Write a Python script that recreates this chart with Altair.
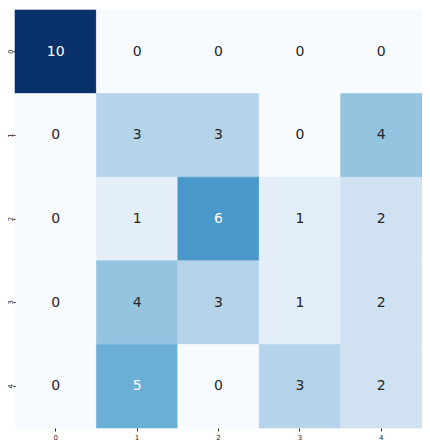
import altair as alt
import pandas as pd

labels = [0, 1, 2, 3, 4]
row0 = [10, 0, 0, 0, 0]
row1 = [0, 3, 3, 0, 4]
row2 = [0, 1, 6, 1, 2]
row3 = [0, 4, 3, 1, 2]
row4 = [0, 5, 0, 3, 2]
matrix = [row0, row1, row2, row3, row4]

blues_domain = [0, 1.25, 2.5, 3.75, 5, 6.25, 7.5, 8.75, 10]
blues_range = ["#f7fbff", "#deebf7", "#c6dbef", "#9ecae1", "#6baed6",
               "#4292c6", "#2171b5", "#08519c", "#08306b"]

rows = []
for i, r in enumerate(matrix):
    for j, v in enumerate(r):
        rows.append({"true": labels[i], "pred": labels[j], "value": v})
df = pd.DataFrame(rows)

x = alt.X("pred:O", title=None, sort=labels,
          axis=alt.Axis(labelAngle=0, labelFontSize=7, labelFont="DejaVu Sans",
                        labelColor="#262626", tickSize=3, tickColor="#262626",
                        domain=False, labelPadding=2))
y = alt.Y("true:O", title=None, sort=labels,
          axis=alt.Axis(labelAngle=270, labelFontSize=7, labelFont="DejaVu Sans",
                        labelColor="#262626", tickSize=2, tickColor="#262626",
                        domain=False, labelPadding=0, labelAlign="center",
                        labelBaseline="bottom"))

cscale = alt.Scale(domain=blues_domain, range=blues_range, interpolate="rgb")

base = alt.Chart(df)
heat = base.mark_rect(strokeWidth=0.6).encode(
    x=x, y=y,
    color=alt.Color("value:Q", legend=None, scale=cscale),
    stroke=alt.Stroke("value:Q", legend=None, scale=cscale),
)
text = base.mark_text(font="DejaVu Sans", fontSize=14).encode(
    x=x, y=y,
    text="value:Q",
    color=alt.condition(alt.datum.value >= 5, alt.value("white"), alt.value("#262626")),
)

chart = (heat + text).properties(
    width=407, height=418,
    autosize=alt.AutoSizeParams(type="none"),
    padding={"left": 7, "top": 2, "right": 0, "bottom": 12},
).configure_view(stroke=None).configure_scale(bandPaddingInner=0, bandPaddingOuter=0)

chart.save("out.html", embed_options={"renderer": "svg", "actions": False})
